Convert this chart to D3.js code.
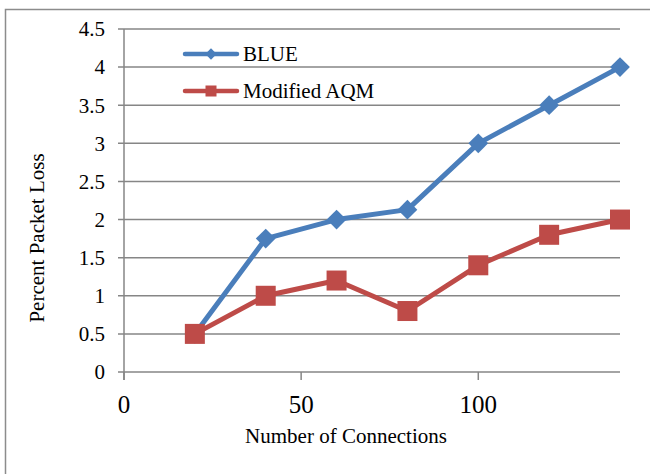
<!DOCTYPE html>
<html>
<head>
<meta charset="utf-8">
<script src="https://cdn.jsdelivr.net/npm/d3@7"></script>
<style>
  html, body { margin: 0; padding: 0; background: #fff; }
  svg { display: block; }
  text { font-family: "Liberation Serif", "Times New Roman", serif; fill: #000; }
</style>
</head>
<body>
<svg id="chart" width="650" height="474"></svg>
<script>
// ---- data ----
const connections = [20, 40, 60, 80, 100, 120, 140];
const blueLoss = [0.5, 1.75, 2.0, 2.13, 3.0, 3.5, 4.0];
const aqmLoss = [0.5, 1.0, 1.2, 0.8, 1.4, 1.8, 2.0];
const seriesNames = ["BLUE", "Modified AQM"];
const xTicks = [0, 50, 100];
const yTicks = [0, 0.5, 1, 1.5, 2, 2.5, 3, 3.5, 4, 4.5];
const xTitle = "Number of Connections";
const yTitle = "Percent Packet Loss";

(function () {
// ---- layout ----
const svg = d3.select("#chart");
const pLeft = 124, pRight = 620, pTop = 29, pBottom = 372;
const x = d3.scaleLinear().domain([0, 140]).range([pLeft, pRight]);
const y = d3.scaleLinear().domain([0, 4.5]).range([pBottom, pTop]);
const gridColor = "#868686";
const blueColor = "#4A7EBB";
const redColor = "#BE4B48";

// outer frame
svg.append("rect")
  .attr("x", 5.5).attr("y", 9.5)
  .attr("width", 700).attr("height", 500)
  .attr("fill", "none").attr("stroke", "#8c8c8c").attr("stroke-width", 1.5);

// gridlines
svg.append("g").selectAll("line").data(yTicks).join("line")
  .attr("x1", pLeft - 6).attr("x2", pRight)
  .attr("y1", d => y(d)).attr("y2", d => y(d))
  .attr("stroke", gridColor).attr("stroke-width", 1.5);

// y axis line
svg.append("line")
  .attr("x1", pLeft).attr("x2", pLeft)
  .attr("y1", pTop).attr("y2", pBottom + 8)
  .attr("stroke", gridColor).attr("stroke-width", 1.5);

// x tick marks
svg.append("g").selectAll("line").data(xTicks).join("line")
  .attr("x1", d => x(d)).attr("x2", d => x(d))
  .attr("y1", pBottom).attr("y2", pBottom + 8)
  .attr("stroke", gridColor).attr("stroke-width", 1.5);

// y tick labels
svg.append("g").selectAll("text").data(yTicks).join("text")
  .attr("x", 105).attr("y", d => y(d)).attr("dy", "0.35em")
  .attr("text-anchor", "end").attr("font-size", 21)
  .text(d => d3.format("")(d));

// x tick labels
svg.append("g").selectAll("text").data(xTicks).join("text")
  .attr("x", d => x(d)).attr("y", 413)
  .attr("text-anchor", "middle").attr("font-size", 25)
  .text(d => d);

// axis titles
svg.append("text")
  .attr("x", 346).attr("y", 443)
  .attr("text-anchor", "middle").attr("font-size", 21)
  .text(xTitle);
svg.append("text")
  .attr("transform", "translate(44,238) rotate(-90)")
  .attr("text-anchor", "middle").attr("font-size", 21)
  .text(yTitle);

// series
const line = d3.line().x(d => x(d[0])).y(d => y(d[1]));
const blueData = connections.map((c, i) => [c, blueLoss[i]]);
const aqmData = connections.map((c, i) => [c, aqmLoss[i]]);

svg.append("path").datum(blueData)
  .attr("d", line).attr("fill", "none")
  .attr("stroke", blueColor).attr("stroke-width", 5).attr("stroke-linejoin", "round");
svg.append("g").selectAll("path").data(blueData).join("path")
  .attr("d", d3.symbol().type(d3.symbolSquare).size(14 * 14))
  .attr("transform", d => `translate(${x(d[0])},${y(d[1])}) rotate(45)`)
  .attr("fill", blueColor);

svg.append("path").datum(aqmData)
  .attr("d", line).attr("fill", "none")
  .attr("stroke", redColor).attr("stroke-width", 5).attr("stroke-linejoin", "round");
svg.append("g").selectAll("rect").data(aqmData).join("rect")
  .attr("x", d => x(d[0]) - 10).attr("y", d => y(d[1]) - 10)
  .attr("width", 20).attr("height", 20)
  .attr("fill", redColor);

// legend
const legend = svg.append("g");
const legendY = [54, 91];
const legendColors = [blueColor, redColor];
seriesNames.forEach((name, i) => {
  const g = legend.append("g");
  g.append("line")
    .attr("x1", 185).attr("x2", 237)
    .attr("y1", legendY[i]).attr("y2", legendY[i])
    .attr("stroke", legendColors[i]).attr("stroke-width", 4.5).attr("stroke-linecap", "round");
  if (i === 0) {
    g.append("path")
      .attr("d", d3.symbol().type(d3.symbolSquare).size(8 * 8))
      .attr("transform", `translate(211,${legendY[i]}) rotate(45)`)
      .attr("fill", legendColors[i]);
  } else {
    g.append("rect")
      .attr("x", 205.5).attr("y", legendY[i] - 5.5)
      .attr("width", 11).attr("height", 11)
      .attr("fill", legendColors[i]);
  }
  g.append("text")
    .attr("x", 243).attr("y", legendY[i]).attr("dy", "0.35em")
    .attr("font-size", 21)
    .text(name);
});
})();
</script>
</body>
</html>
